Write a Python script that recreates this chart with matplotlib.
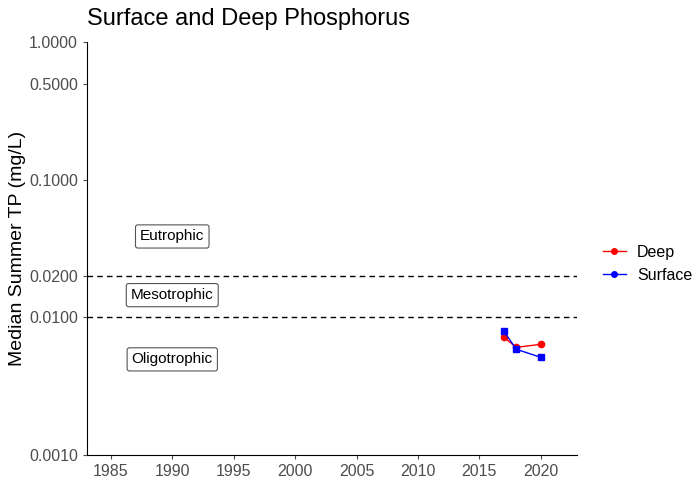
import matplotlib.pyplot as plt
from matplotlib.lines import Line2D

plt.rcParams['font.family'] = ['Liberation Sans', 'DejaVu Sans']

years = [2017, 2018, 2020]
deep = [0.00716, 0.00605, 0.00637]
surface = [0.0079, 0.00586, 0.00512]

thresholds = [0.01, 0.02]
zones = ["Eutrophic", "Mesotrophic", "Oligotrophic"]
zone_y = [0.0387, 0.0145, 0.00495]
zone_x = 1990

yticks = [0.001, 0.01, 0.02, 0.1, 0.5, 1.0]
xticks = list(range(1985, 2021, 5))

fig = plt.figure(figsize=(6.95, 4.84), dpi=100)
ax = fig.add_axes([0.125, 0.060, 0.705, 0.853])

for t in thresholds:
    ax.axhline(t, color='black', ls=(0, (4, 3)), lw=1)

for name, yy in zip(zones, zone_y):
    ax.text(zone_x, yy, name, ha='center', va='center', fontsize=11,
            bbox=dict(boxstyle='round,pad=0.3,rounding_size=0.15', fc='white', ec='#555555', lw=0.8))

ax.plot(years, deep, color='red', marker='o', ms=4.5, lw=1)
ax.plot(years, surface, color='blue', marker='s', ms=4.5, lw=1)

ax.set_yscale('log')
ax.set_ylim(0.001, 1.0)
ax.set_xlim(1983.05, 2022.93)
ax.set_yticks(yticks)
ax.set_yticklabels(['%.4f' % v for v in yticks])
ax.minorticks_off()
ax.set_xticks(xticks)

for s in ['top', 'right']:
    ax.spines[s].set_visible(False)
ax.tick_params(labelsize=11.5, colors='#4d4d4d', length=3)
ax.set_ylabel('Median Summer TP (mg/L)', fontsize=14, labelpad=2)
ax.set_title('Surface and Deep Phosphorus', fontsize=17, loc='left', x=0, pad=12)

handles = [Line2D([], [], color='red', marker='o', ms=4, lw=1),
           Line2D([], [], color='blue', marker='o', ms=4, lw=1)]
fig.legend(handles, ['Deep', 'Surface'], loc='center left', bbox_to_anchor=(0.868, 0.455),
           frameon=False, fontsize=11.5, handlelength=1.4, handletextpad=0.7,
           borderaxespad=0, borderpad=0)

fig.savefig('out.png', dpi=100)
